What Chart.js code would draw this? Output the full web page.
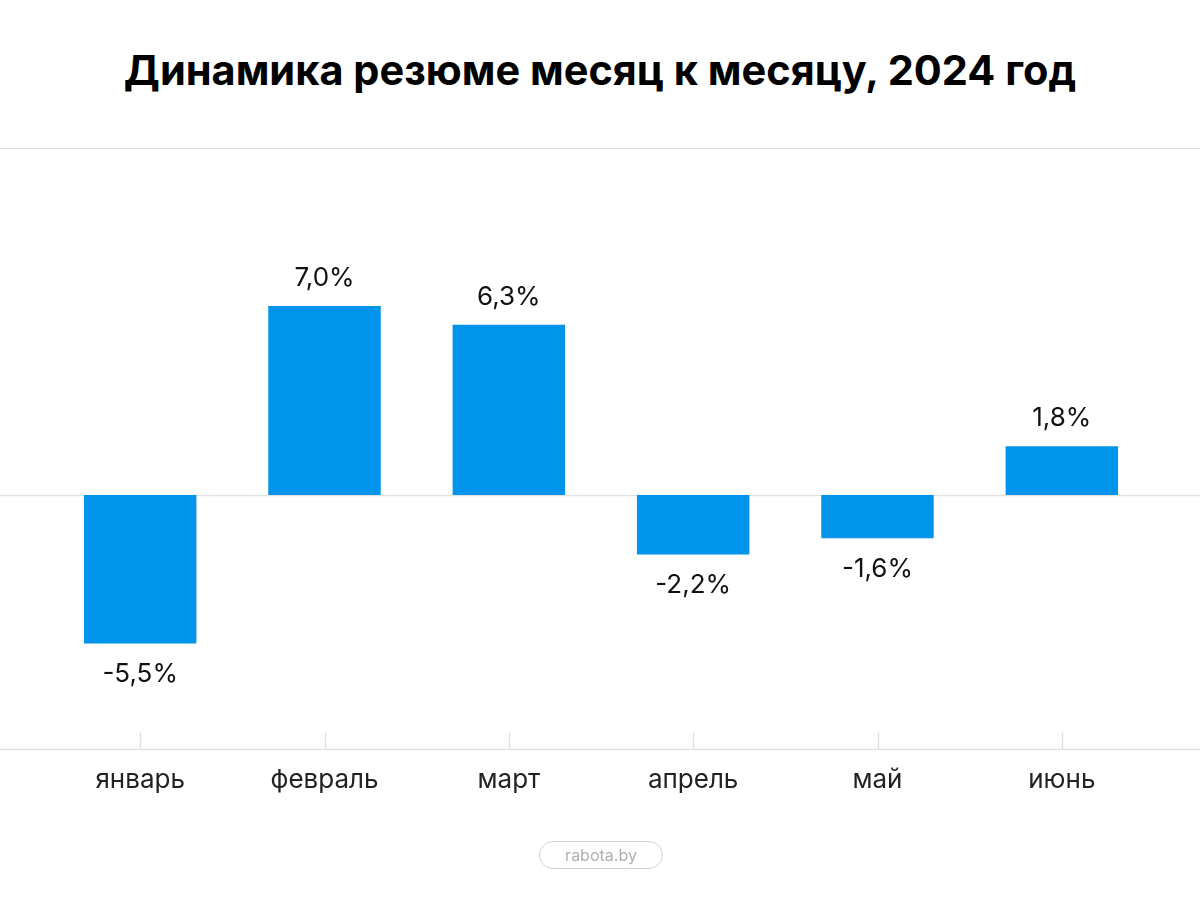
<!DOCTYPE html>
<html lang="ru">
<head>
<meta charset="utf-8">
<script src="https://cdn.jsdelivr.net/npm/chart.js@4.4.1/dist/chart.umd.min.js"></script>
<style>
  html, body { margin: 0; padding: 0; background: #fff; }
  body { width: 1200px; height: 898px; position: relative; overflow: hidden; font-family: Inter, "Noto Sans", sans-serif; }
  #title { position: absolute; top: 42px; left: 0; width: 1200px; text-align: center; font-size: 41.5px; font-weight: 700; color: #000; line-height: 56px; }
  #sep { position: absolute; top: 148px; left: 0; width: 1200px; height: 1px; background: #e2e2e2; }
  #wrap { position: absolute; top: 0; left: 0; width: 1200px; height: 898px; }
  #source { position: absolute; top: 841px; left: 539px; width: 122px; height: 26px; border: 1.5px solid #d0d0d0; border-radius: 14px; text-align: center; line-height: 26px; font-size: 16px; color: #b0b0b0; box-sizing: content-box; }
</style>
</head>
<body>
<div id="title">Динамика резюме месяц к месяцу, 2024 год</div>
<div id="sep"></div>
<div id="wrap"><canvas id="chart" width="1200" height="898"></canvas></div>
<div id="source">rabota.by</div>
<script>
/* ------------------------------
   DATA
------------------------------ */
const months = ["январь", "февраль", "март", "апрель", "май", "июнь"];
const changes = [-5.5, 7.0, 6.3, -2.2, -1.6, 1.8];
const valueLabels = ["-5,5%", "7,0%", "6,3%", "-2,2%", "-1,6%", "1,8%"];

const LINE = "#e2e2e2";
const TEXT = "#111";

/* ------------------------------
   LINES + VALUE LABELS
------------------------------ */
const decor = {
  id: "decor",
  beforeDatasetsDraw(chart) {
    const { ctx, chartArea, scales } = chart;
    const w = chart.width;
    const zeroY = Math.round(scales.y.getPixelForValue(0)) + 0.5;
    const baseY = Math.round(chartArea.bottom) + 0.5;
    ctx.save();
    ctx.strokeStyle = LINE;
    ctx.lineWidth = 1.5;
    ctx.beginPath();
    ctx.moveTo(0, zeroY); ctx.lineTo(w, zeroY);
    ctx.moveTo(0, baseY); ctx.lineTo(w, baseY);
    months.forEach((m, i) => {
      const x = Math.round(scales.x.getPixelForValue(i)) + 0.5;
      ctx.moveTo(x, baseY - 17);
      ctx.lineTo(x, baseY);
    });
    ctx.stroke();
    ctx.restore();
  },
  afterDatasetsDraw(chart) {
    const { ctx } = chart;
    const meta = chart.getDatasetMeta(0);
    ctx.save();
    ctx.font = "400 26px Inter, 'Noto Sans', sans-serif";
    ctx.fillStyle = TEXT;
    ctx.textAlign = "center";
    ctx.textBaseline = "middle";
    meta.data.forEach((bar, i) => {
      const y = changes[i] >= 0 ? bar.y - 28 : bar.y + 31;
      ctx.fillText(valueLabels[i], bar.x, y);
    });
    ctx.restore();
  }
};

/* ------------------------------
   CHART
------------------------------ */
new Chart(document.getElementById("chart"), {
  type: "bar",
  data: {
    labels: months,
    datasets: [{
      data: changes,
      backgroundColor: "#0094ea",
      borderWidth: 0,
      barPercentage: 0.61,
      categoryPercentage: 1
    }]
  },
  options: {
    responsive: false,
    animation: false,
    layout: { padding: { top: 148, left: 48, right: 46, bottom: 86 } },
    plugins: { legend: { display: false }, tooltip: { enabled: false } },
    scales: {
      x: {
        grid: { display: false, drawTicks: false },
        border: { display: false },
        ticks: { padding: 16, color: "#222", font: { family: "Inter, 'Noto Sans', sans-serif", size: 26 } }
      },
      y: { display: false, min: -9.4, max: 12.85 }
    }
  },
  plugins: [decor]
});
</script>
</body>
</html>
